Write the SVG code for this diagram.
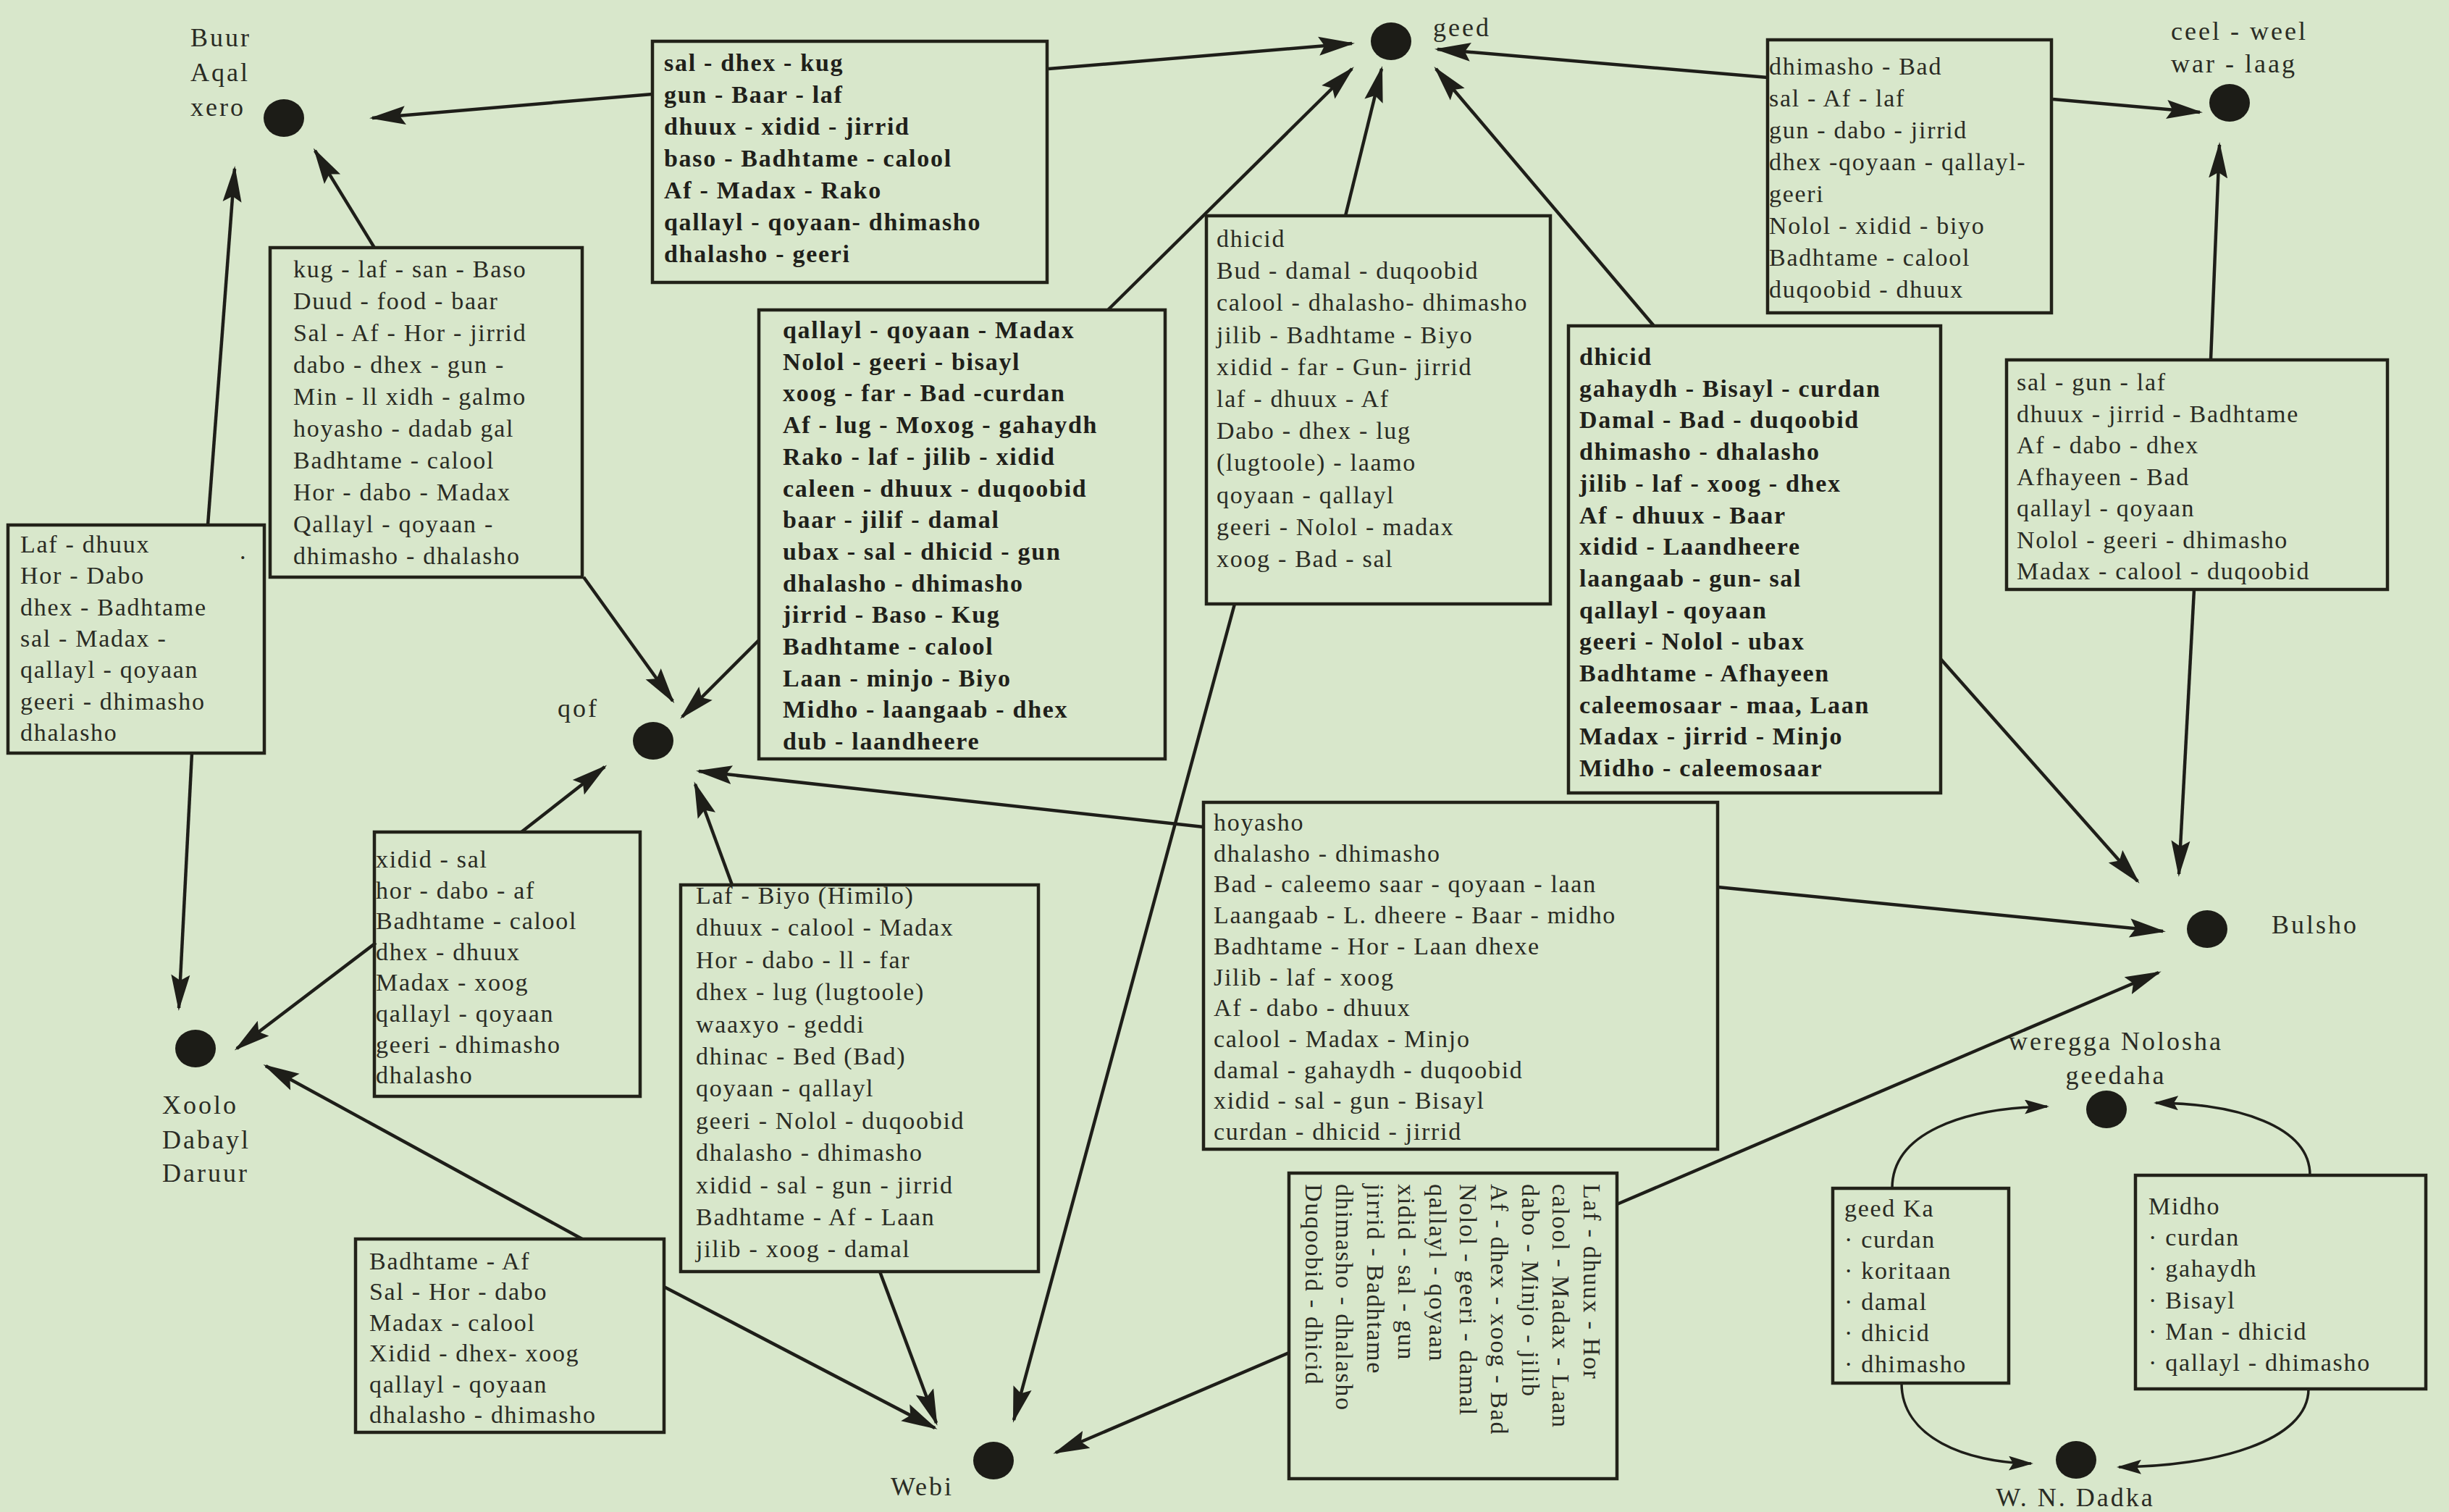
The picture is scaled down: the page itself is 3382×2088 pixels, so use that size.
<svg xmlns="http://www.w3.org/2000/svg" width="3382" height="2088" viewBox="0 0 3382 2088">
<defs>
<style>
.bg{fill:#d8e7cb}
.box{fill:none;stroke:#222219;stroke-width:4.5}
.t{font-family:"Liberation Serif","Times New Roman",serif;font-size:34px;letter-spacing:1.7px;fill:#2a2b24}
.b{font-weight:bold;fill:#1f201a}
.lbl{font-family:"Liberation Serif","Times New Roman",serif;font-size:36px;letter-spacing:3px;fill:#2a2b24}
.mid{text-anchor:middle}
.dot{fill:#1c1c17}
.c{fill:none;stroke:#1e1e19;stroke-width:4.5;marker-end:url(#ah)}
.cs{fill:none;stroke:#1e1e19;stroke-width:3.5;marker-end:url(#ahs)}
</style>
<marker id="ah" viewBox="0 0 50 28" refX="46" refY="14" markerWidth="50" markerHeight="28" markerUnits="userSpaceOnUse" orient="auto"><path d="M0,1 L50,14 L0,27 L8,14 z" fill="#1e1e19"/></marker>
<marker id="ahs" viewBox="0 0 34 20" refX="31" refY="10" markerWidth="34" markerHeight="20" markerUnits="userSpaceOnUse" orient="auto"><path d="M0,0 L34,10 L0,20 L6,10 z" fill="#1e1e19"/></marker>
</defs>
<rect class="bg" x="0" y="0" width="3382" height="2088"/>

<g id="connectors">
<path class="c" d="M901,130 L514,163"/>
<path class="c" d="M1448,95 L1867,60"/>
<path class="c" d="M2441,107 L1985,68"/>
<path class="c" d="M2835,137 L3038,155"/>
<path class="c" d="M517,342 L435,208"/>
<path class="c" d="M287,725 L324,233"/>
<path class="c" d="M265,1040 L247,1392"/>
<path class="c" d="M806,797 L929,968"/>
<path class="c" d="M1048,884 L942,990"/>
<path class="c" d="M1530,428 L1867,95"/>
<path class="c" d="M1858,298 L1908,95"/>
<path class="c" d="M2284,450 L1983,95"/>
<path class="c" d="M1705,834 L1400,1961"/>
<path class="c" d="M1011,1222 L960,1083"/>
<path class="c" d="M1215,1756 L1293,1965"/>
<path class="c" d="M917,1777 L1291,1972"/>
<path class="c" d="M804,1711 L367,1472"/>
<path class="c" d="M519,1302 L327,1448"/>
<path class="c" d="M720,1149 L835,1059"/>
<path class="c" d="M1662,1142 L965,1065"/>
<path class="c" d="M2372,1225 L2987,1286"/>
<path class="c" d="M2680,910 L2952,1217"/>
<path class="c" d="M3030,814 L3009,1207"/>
<path class="c" d="M3053,497 L3065,200"/>
<path class="c" d="M1780,1868 L1458,2006"/>
<path class="c" d="M2233,1663 L2981,1343"/>
<path class="cs" d="M2613,1641 C2613,1565 2710,1530 2827,1528"/>
<path class="cs" d="M3190,1623 C3190,1555 3090,1524 2977,1523"/>
<path class="cs" d="M2626,1910 C2626,1985 2715,2020 2805,2021"/>
<path class="cs" d="M3188,1918 C3188,1990 3060,2025 2926,2026"/>
</g>

<g id="node-buur">
<ellipse class="dot" cx="392" cy="163" rx="28" ry="26"/>
<text class="lbl" x="263" y="64">Buur</text>
<text class="lbl" x="263" y="112">Aqal</text>
<text class="lbl" x="263" y="160">xero</text>
</g>
<g id="node-geed">
<ellipse class="dot" cx="1921" cy="57" rx="28" ry="26"/>
<text class="lbl" x="1979" y="50">geed</text>
</g>
<g id="node-ceel">
<ellipse class="dot" cx="3079" cy="142" rx="28" ry="26"/>
<text class="lbl" x="2998" y="55">ceel - weel</text>
<text class="lbl" x="2998" y="100">war - laag</text>
</g>
<g id="node-qof">
<ellipse class="dot" cx="902" cy="1023" rx="28" ry="26"/>
<text class="lbl" x="770" y="990">qof</text>
</g>
<g id="node-xoolo">
<ellipse class="dot" cx="270" cy="1448" rx="28" ry="26"/>
<text class="lbl" x="224" y="1538">Xoolo</text>
<text class="lbl" x="224" y="1586">Dabayl</text>
<text class="lbl" x="224" y="1632">Daruur</text>
</g>
<g id="node-webi">
<ellipse class="dot" cx="1372" cy="2017" rx="28" ry="26"/>
<text class="lbl" x="1230" y="2065">Webi</text>
</g>
<g id="node-bulsho">
<ellipse class="dot" cx="3048" cy="1283" rx="28" ry="26"/>
<text class="lbl" x="3137" y="1289">Bulsho</text>
</g>
<g id="node-weregga">
<ellipse class="dot" cx="2909" cy="1532" rx="28" ry="26"/>
<text class="lbl mid" x="2922" y="1450">weregga Nolosha</text>
<text class="lbl mid" x="2922" y="1497">geedaha</text>
</g>
<g id="node-dadka">
<ellipse class="dot" cx="2867" cy="2016" rx="28" ry="26"/>
<text class="lbl mid" x="2866" y="2080">W. N. Dadka</text>
</g>

<g id="box-a">
<text class="t b" x="917" y="98"><tspan x="917">sal - dhex - kug</tspan><tspan x="917" dy="44">gun - Baar - laf</tspan><tspan x="917" dy="44">dhuux - xidid - jirrid</tspan><tspan x="917" dy="44">baso - Badhtame - calool</tspan><tspan x="917" dy="44">Af - Madax - Rako</tspan><tspan x="917" dy="44">qallayl - qoyaan- dhimasho</tspan><tspan x="917" dy="44">dhalasho - geeri</tspan></text>
<rect class="box" x="901" y="57" width="545" height="333"/>
</g>
<g id="box-b">
<text class="t" x="405" y="383"><tspan x="405">kug - laf - san - Baso</tspan><tspan x="405" dy="44">Duud - food - baar</tspan><tspan x="405" dy="44">Sal - Af - Hor - jirrid</tspan><tspan x="405" dy="44">dabo - dhex - gun -</tspan><tspan x="405" dy="44">Min - ll xidh - galmo</tspan><tspan x="405" dy="44">hoyasho - dadab gal</tspan><tspan x="405" dy="44">Badhtame - calool</tspan><tspan x="405" dy="44">Hor - dabo - Madax</tspan><tspan x="405" dy="44">Qallayl - qoyaan -</tspan><tspan x="405" dy="44">dhimasho - dhalasho</tspan></text>
<rect class="box" x="373" y="342" width="431" height="455"/>
</g>
<g id="box-c">
<text class="t" x="28" y="763"><tspan x="28">Laf - dhuux</tspan><tspan x="28" dy="43.3">Hor - Dabo</tspan><tspan x="28" dy="43.3">dhex - Badhtame</tspan><tspan x="28" dy="43.3">sal - Madax -</tspan><tspan x="28" dy="43.3">qallayl - qoyaan</tspan><tspan x="28" dy="43.3">geeri - dhimasho</tspan><tspan x="28" dy="43.3">dhalasho</tspan></text>
<text class="t" x="331" y="772">.</text>
<rect class="box" x="11" y="725" width="354" height="315"/>
</g>
<g id="box-d">
<text class="t b" x="1081" y="467"><tspan x="1081">qallayl - qoyaan - Madax</tspan><tspan x="1081" dy="43.7">Nolol - geeri - bisayl</tspan><tspan x="1081" dy="43.7">xoog - far - Bad -curdan</tspan><tspan x="1081" dy="43.7">Af - lug - Moxog - gahaydh</tspan><tspan x="1081" dy="43.7">Rako - laf - jilib - xidid</tspan><tspan x="1081" dy="43.7">caleen - dhuux - duqoobid</tspan><tspan x="1081" dy="43.7">baar - jilif - damal</tspan><tspan x="1081" dy="43.7">ubax - sal - dhicid - gun</tspan><tspan x="1081" dy="43.7">dhalasho - dhimasho</tspan><tspan x="1081" dy="43.7">jirrid - Baso - Kug</tspan><tspan x="1081" dy="43.7">Badhtame - calool</tspan><tspan x="1081" dy="43.7">Laan - minjo - Biyo</tspan><tspan x="1081" dy="43.7">Midho - laangaab - dhex</tspan><tspan x="1081" dy="43.7">dub - laandheere</tspan></text>
<rect class="box" x="1048" y="428" width="561" height="620"/>
</g>
<g id="box-e">
<text class="t" x="1680" y="341"><tspan x="1680">dhicid</tspan><tspan x="1680" dy="44.2">Bud - damal - duqoobid</tspan><tspan x="1680" dy="44.2">calool - dhalasho- dhimasho</tspan><tspan x="1680" dy="44.2">jilib - Badhtame - Biyo</tspan><tspan x="1680" dy="44.2">xidid - far - Gun- jirrid</tspan><tspan x="1680" dy="44.2">laf - dhuux - Af</tspan><tspan x="1680" dy="44.2">Dabo - dhex - lug</tspan><tspan x="1680" dy="44.2">(lugtoole) - laamo</tspan><tspan x="1680" dy="44.2">qoyaan - qallayl</tspan><tspan x="1680" dy="44.2">geeri - Nolol - madax</tspan><tspan x="1680" dy="44.2">xoog - Bad - sal</tspan></text>
<rect class="box" x="1666" y="298" width="475" height="536"/>
</g>
<g id="box-f">
<text class="t" x="2443" y="103"><tspan x="2443">dhimasho - Bad</tspan><tspan x="2443" dy="44">sal - Af - laf</tspan><tspan x="2443" dy="44">gun - dabo - jirrid</tspan><tspan x="2443" dy="44">dhex -qoyaan - qallayl-</tspan><tspan x="2443" dy="44">geeri</tspan><tspan x="2443" dy="44">Nolol - xidid - biyo</tspan><tspan x="2443" dy="44">Badhtame - calool</tspan><tspan x="2443" dy="44">duqoobid - dhuux</tspan></text>
<rect class="box" x="2441" y="55" width="392" height="377"/>
</g>
<g id="box-g">
<text class="t b" x="2181" y="504"><tspan x="2181">dhicid</tspan><tspan x="2181" dy="43.7">gahaydh - Bisayl - curdan</tspan><tspan x="2181" dy="43.7">Damal - Bad - duqoobid</tspan><tspan x="2181" dy="43.7">dhimasho - dhalasho</tspan><tspan x="2181" dy="43.7">jilib - laf - xoog - dhex</tspan><tspan x="2181" dy="43.7">Af - dhuux - Baar</tspan><tspan x="2181" dy="43.7">xidid - Laandheere</tspan><tspan x="2181" dy="43.7">laangaab - gun- sal</tspan><tspan x="2181" dy="43.7">qallayl - qoyaan</tspan><tspan x="2181" dy="43.7">geeri - Nolol - ubax</tspan><tspan x="2181" dy="43.7">Badhtame - Afhayeen</tspan><tspan x="2181" dy="43.7">caleemosaar - maa, Laan</tspan><tspan x="2181" dy="43.7">Madax - jirrid - Minjo</tspan><tspan x="2181" dy="43.7">Midho - caleemosaar</tspan></text>
<rect class="box" x="2166" y="450" width="514" height="645"/>
</g>
<g id="box-h">
<text class="t" x="2785" y="539"><tspan x="2785">sal - gun - laf</tspan><tspan x="2785" dy="43.5">dhuux - jirrid - Badhtame</tspan><tspan x="2785" dy="43.5">Af - dabo - dhex</tspan><tspan x="2785" dy="43.5">Afhayeen - Bad</tspan><tspan x="2785" dy="43.5">qallayl - qoyaan</tspan><tspan x="2785" dy="43.5">Nolol - geeri - dhimasho</tspan><tspan x="2785" dy="43.5">Madax - calool - duqoobid</tspan></text>
<rect class="box" x="2771" y="497" width="526" height="317"/>
</g>
<g id="box-i">
<text class="t" x="1676" y="1147"><tspan x="1676">hoyasho</tspan><tspan x="1676" dy="42.7">dhalasho - dhimasho</tspan><tspan x="1676" dy="42.7">Bad - caleemo saar - qoyaan - laan</tspan><tspan x="1676" dy="42.7">Laangaab - L. dheere - Baar - midho</tspan><tspan x="1676" dy="42.7">Badhtame - Hor - Laan dhexe</tspan><tspan x="1676" dy="42.7">Jilib - laf - xoog</tspan><tspan x="1676" dy="42.7">Af - dabo - dhuux</tspan><tspan x="1676" dy="42.7">calool - Madax - Minjo</tspan><tspan x="1676" dy="42.7">damal - gahaydh - duqoobid</tspan><tspan x="1676" dy="42.7">xidid - sal - gun - Bisayl</tspan><tspan x="1676" dy="42.7">curdan - dhicid - jirrid</tspan></text>
<rect class="box" x="1662" y="1108" width="710" height="479"/>
</g>
<g id="box-j">
<text class="t" x="519" y="1198"><tspan x="519">xidid - sal</tspan><tspan x="519" dy="42.6">hor - dabo - af</tspan><tspan x="519" dy="42.6">Badhtame - calool</tspan><tspan x="519" dy="42.6">dhex - dhuux</tspan><tspan x="519" dy="42.6">Madax - xoog</tspan><tspan x="519" dy="42.6">qallayl - qoyaan</tspan><tspan x="519" dy="42.6">geeri - dhimasho</tspan><tspan x="519" dy="42.6">dhalasho</tspan></text>
<rect class="box" x="517" y="1149" width="367" height="365"/>
</g>
<g id="box-k">
<text class="t" x="961" y="1248"><tspan x="961">Laf - Biyo (Himilo)</tspan><tspan x="961" dy="44.4">dhuux - calool - Madax</tspan><tspan x="961" dy="44.4">Hor - dabo - ll - far</tspan><tspan x="961" dy="44.4">dhex - lug (lugtoole)</tspan><tspan x="961" dy="44.4">waaxyo - geddi</tspan><tspan x="961" dy="44.4">dhinac - Bed (Bad)</tspan><tspan x="961" dy="44.4">qoyaan - qallayl</tspan><tspan x="961" dy="44.4">geeri - Nolol - duqoobid</tspan><tspan x="961" dy="44.4">dhalasho - dhimasho</tspan><tspan x="961" dy="44.4">xidid - sal - gun - jirrid</tspan><tspan x="961" dy="44.4">Badhtame - Af - Laan</tspan><tspan x="961" dy="44.4">jilib - xoog - damal</tspan></text>
<rect class="box" x="940" y="1222" width="494" height="534"/>
</g>
<g id="box-l">
<text class="t" x="510" y="1753"><tspan x="510">Badhtame - Af</tspan><tspan x="510" dy="42.4">Sal - Hor - dabo</tspan><tspan x="510" dy="42.4">Madax - calool</tspan><tspan x="510" dy="42.4">Xidid - dhex- xoog</tspan><tspan x="510" dy="42.4">qallayl - qoyaan</tspan><tspan x="510" dy="42.4">dhalasho - dhimasho</tspan></text>
<rect class="box" x="491" y="1711" width="426" height="267"/>
</g>
<g id="box-m">
<text class="t" transform="translate(2187,1635) rotate(90)">Laf - dhuux - Hor</text>
<text class="t" transform="translate(2144,1635) rotate(90)">calool - Madax - Laan</text>
<text class="t" transform="translate(2102,1635) rotate(90)">dabo - Minjo - jilib</text>
<text class="t" transform="translate(2059,1635) rotate(90)">Af - dhex - xoog - Bad</text>
<text class="t" transform="translate(2016,1635) rotate(90)">Nolol - geeri - damal</text>
<text class="t" transform="translate(1974,1635) rotate(90)">qallayl - qoyaan</text>
<text class="t" transform="translate(1931,1635) rotate(90)">xidid - sal - gun</text>
<text class="t" transform="translate(1888,1635) rotate(90)">jirrid - Badhtame</text>
<text class="t" transform="translate(1845,1635) rotate(90)">dhimasho - dhalasho</text>
<text class="t" transform="translate(1803,1635) rotate(90)">Duqoobid - dhicid</text>
<rect class="box" x="1780" y="1620" width="453" height="422"/>
</g>
<g id="box-n">
<text class="t" x="2547" y="1680"><tspan x="2547">geed Ka</tspan><tspan x="2547" dy="43">· curdan</tspan><tspan x="2547" dy="43">· koritaan</tspan><tspan x="2547" dy="43">· damal</tspan><tspan x="2547" dy="43">· dhicid</tspan><tspan x="2547" dy="43">· dhimasho</tspan></text>
<rect class="box" x="2531" y="1641" width="243" height="269"/>
</g>
<g id="box-o">
<text class="t" x="2967" y="1677"><tspan x="2967">Midho</tspan><tspan x="2967" dy="43.2">· curdan</tspan><tspan x="2967" dy="43.2">· gahaydh</tspan><tspan x="2967" dy="43.2">· Bisayl</tspan><tspan x="2967" dy="43.2">· Man - dhicid</tspan><tspan x="2967" dy="43.2">· qallayl - dhimasho</tspan></text>
<rect class="box" x="2949" y="1623" width="401" height="295"/>
</g>
</svg>
